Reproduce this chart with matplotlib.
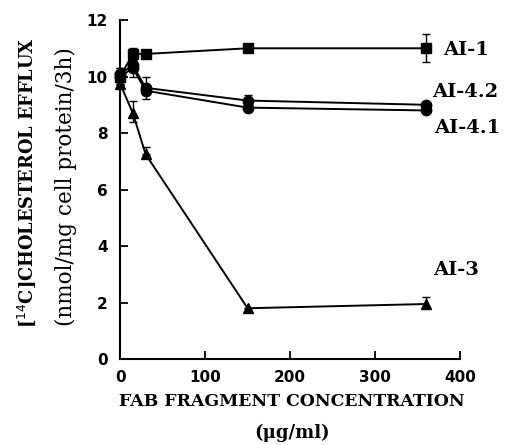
import matplotlib
matplotlib.use("Agg")
import matplotlib.pyplot as plt
import numpy as np

# Fab fragment concentration (ug/ml)
conc = [0, 15, 30, 150, 360]

# cholesterol efflux (nmol/mg cell protein/3h)
ai1 = [10.0, 10.8, 10.8, 11.0, 11.0]
ai1_lo = [0.3, 0.3, 0.0, 0.0, 0.5]
ai1_hi = [0.3, 0.2, 0.0, 0.0, 0.5]

ai42 = [10.1, 10.4, 9.6, 9.15, 9.0]
ai42_lo = [0.0, 0.0, 0.0, 0.0, 0.0]
ai42_hi = [0.2, 0.2, 0.4, 0.2, 0.0]

ai41 = [10.0, 10.3, 9.5, 8.9, 8.8]
ai41_lo = [0.2, 0.3, 0.3, 0.0, 0.0]
ai41_hi = [0.0, 0.0, 0.0, 0.0, 0.0]

ai3 = [9.75, 8.7, 7.25, 1.8, 1.95]
ai3_lo = [0.0, 0.3, 0.0, 0.0, 0.1]
ai3_hi = [0.0, 0.45, 0.25, 0.0, 0.25]

fig = plt.figure(figsize=(5.09, 4.45), dpi=100)
ax = fig.add_axes([0.236, 0.193, 0.668, 0.762])

font = {"family": "DejaVu Serif", "weight": "bold"}

def series(y, lo, hi, marker, ms):
    ax.errorbar(conc, y, yerr=[lo, hi], color="black", lw=1.4,
                marker=marker, ms=ms, mfc="black", mec="black",
                elinewidth=1.0, capsize=3, capthick=1.0, clip_on=False)

series(ai1, ai1_lo, ai1_hi, "s", 6.5)
series(ai42, ai42_lo, ai42_hi, "o", 7.5)
series(ai41, ai41_lo, ai41_hi, "o", 7.5)
series(ai3, ai3_lo, ai3_hi, "^", 7)

ax.set_xlim(0, 400)
ax.set_ylim(0, 12)
ax.set_xticks([0, 100, 200, 300, 400])
ax.set_yticks([0, 2, 4, 6, 8, 10, 12])
ax.spines["top"].set_visible(False)
ax.spines["right"].set_visible(False)
ax.spines["left"].set_linewidth(1.5)
ax.spines["bottom"].set_linewidth(1.5)
ax.tick_params(direction="in", length=6, width=1.3)
ax.tick_params(axis="x", pad=8)
ax.tick_params(axis="y", pad=9)
for lab in ax.get_xticklabels() + ax.get_yticklabels():
    lab.set_fontfamily("DejaVu Sans")
    lab.set_fontweight("bold")
    lab.set_fontsize(11)

# series labels
ax.text(380, 10.94, "AI-1", fontsize=14, va="center", ha="left", clip_on=False, **font)
ax.text(367, 9.45, "AI-4.2", fontsize=14, va="center", ha="left", clip_on=False, **font)
ax.text(369, 8.18, "AI-4.1", fontsize=14, va="center", ha="left", clip_on=False, **font)
ax.text(368, 3.15, "AI-3", fontsize=14, va="center", ha="left", clip_on=False, **font)

# axis labels
fig.text(292 / 509, 1 - 402 / 445, "FAB FRAGMENT CONCENTRATION", ha="center",
         va="center", fontsize=12.4, **font)
fig.text(292 / 509, 1 - 433 / 445, "(\u03bcg/ml)", ha="center", va="center",
         fontsize=13, **font)
fig.text(27 / 509, 1 - 183 / 445, "[$^{14}$C]CHOLESTEROL EFFLUX", rotation=90,
         ha="center", va="center", fontsize=12.8, **font)
fig.text(66 / 509, 1 - 187 / 445, "(nmol/mg cell protein/3h)", rotation=90,
         ha="center", va="center", fontsize=15.5, family="DejaVu Serif")

plt.savefig("out.png", dpi=100)
